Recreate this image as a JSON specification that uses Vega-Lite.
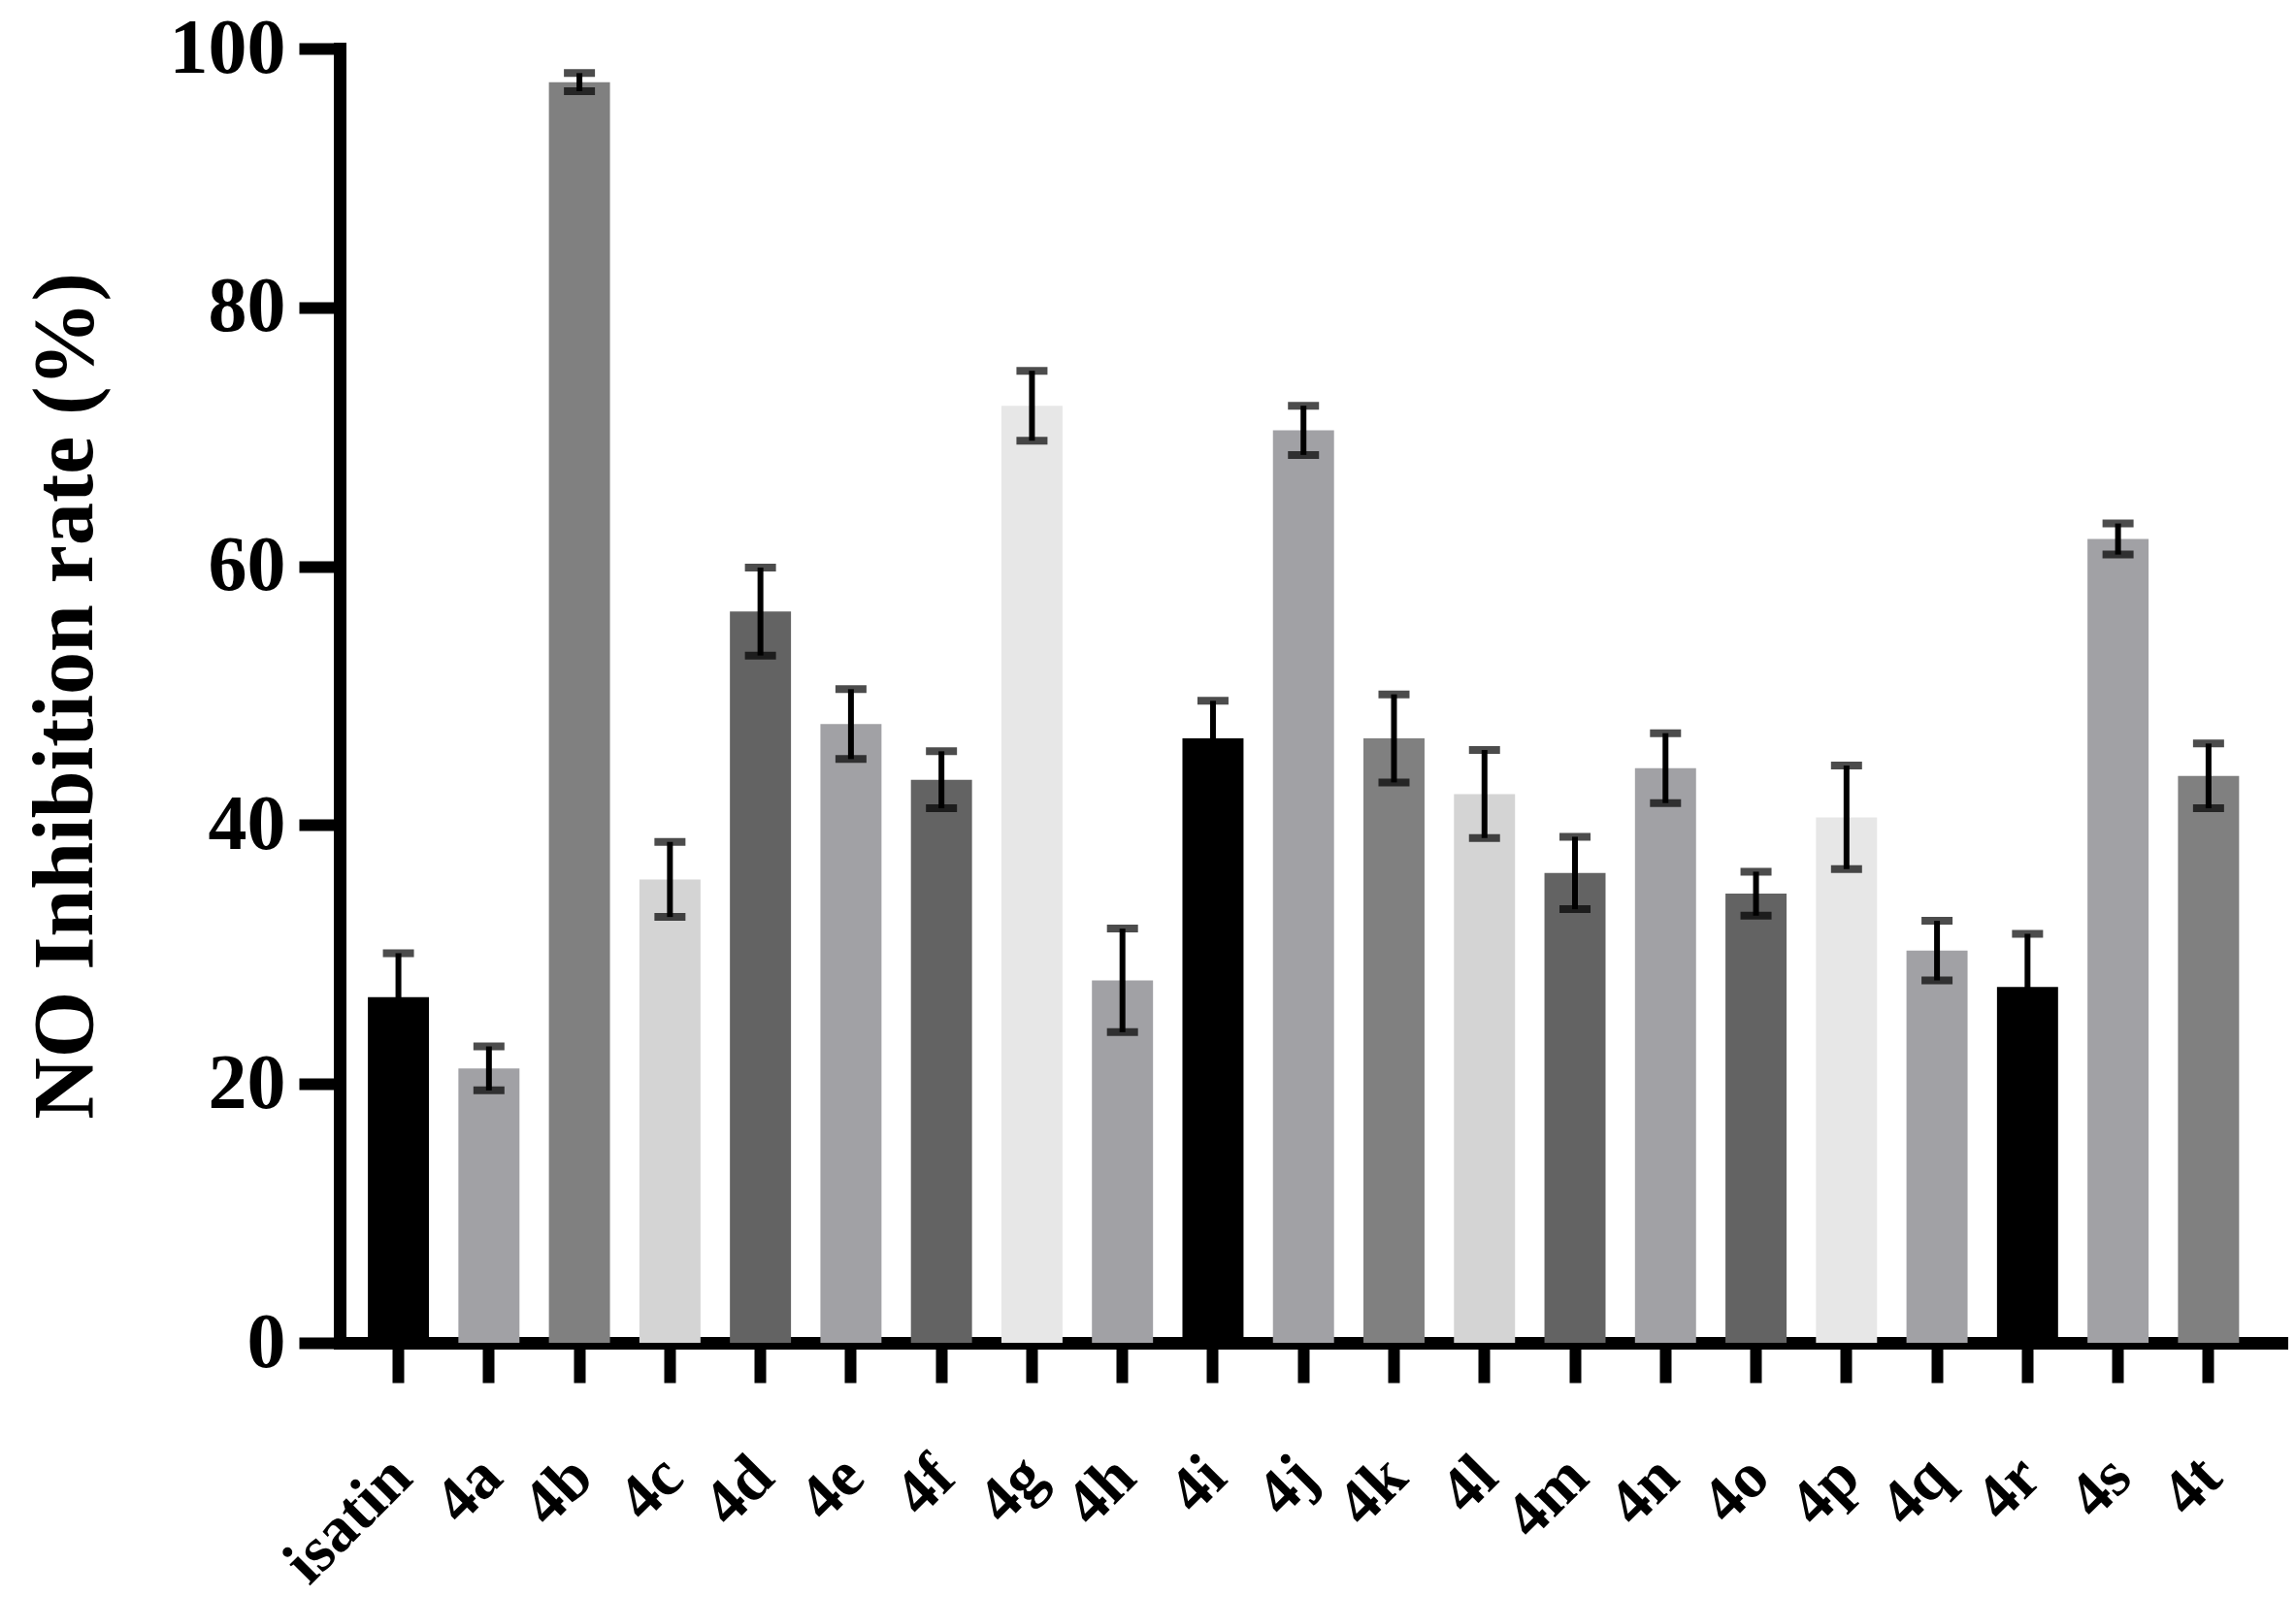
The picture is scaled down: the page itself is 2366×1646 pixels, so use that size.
{
  "$schema": "https://vega.github.io/schema/vega-lite/v6.json",
  "autosize": {"type": "none"},
  "width": 2001,
  "height": 1334,
  "padding": {"left": 350, "top": 50, "right": 15, "bottom": 262},
  "background": "white",
  "config": {
    "view": {"stroke": null},
    "font": "Liberation Serif"
  },
  "data": {
    "values": [
      {"name": "isatin", "value": 26.7, "err": 3.4},
      {"name": "4a", "value": 21.2, "err": 1.7},
      {"name": "4b", "value": 97.4, "err": 0.7},
      {"name": "4c", "value": 35.8, "err": 2.9},
      {"name": "4d", "value": 56.5, "err": 3.4},
      {"name": "4e", "value": 47.8, "err": 2.7},
      {"name": "4f", "value": 43.5, "err": 2.2},
      {"name": "4g", "value": 72.4, "err": 2.7},
      {"name": "4h", "value": 28.0, "err": 4.0},
      {"name": "4i", "value": 46.7, "err": 2.9},
      {"name": "4j", "value": 70.5, "err": 1.9},
      {"name": "4k", "value": 46.7, "err": 3.4},
      {"name": "4l", "value": 42.4, "err": 3.4},
      {"name": "4m", "value": 36.3, "err": 2.8},
      {"name": "4n", "value": 44.4, "err": 2.7},
      {"name": "4o", "value": 34.7, "err": 1.7},
      {"name": "4p", "value": 40.6, "err": 4.0},
      {"name": "4q", "value": 30.3, "err": 2.3},
      {"name": "4r", "value": 27.5, "err": 4.1},
      {"name": "4s", "value": 62.1, "err": 1.2},
      {"name": "4t", "value": 43.8, "err": 2.5}
    ]
  },
  "encoding": {
    "x": {
      "field": "name",
      "type": "nominal",
      "sort": null,
      "scale": {"paddingInner": 0.325, "paddingOuter": 0.39, "align": 0.4},
      "axis": {
        "title": null,
        "domainColor": "black",
        "domainWidth": 13,
        "domainCap": "square",
        "tickColor": "black",
        "tickWidth": 12,
        "tickSize": 41,
        "labelAngle": -45,
        "labelAlign": "right",
        "labelBaseline": "top",
        "labelLimit": 0,
        "labelOffset": -20,
        "labelFont": "Liberation Serif",
        "labelFontWeight": "bold",
        "labelFontSize": 66,
        "labelColor": "black",
        "labelPadding": 64
      }
    }
  },
  "layer": [
    {
      "mark": {"type": "bar"},
      "encoding": {
        "y": {
          "field": "value",
          "type": "quantitative",
          "title": "NO Inhibition rate (%)",
          "scale": {"domain": [0, 100], "nice": false},
          "axis": {
            "titleFont": "Liberation Serif",
            "titleFontWeight": "bold",
            "titleFontSize": 88,
            "titleColor": "black",
            "titlePadding": 62,
            "values": [0, 20, 40, 60, 80, 100],
            "grid": false,
            "domainColor": "black",
            "domainWidth": 13,
            "domainCap": "square",
            "tickColor": "black",
            "tickWidth": 12,
            "tickSize": 42,
            "labelFont": "Liberation Serif",
            "labelFontWeight": "bold",
            "labelFontSize": 80,
            "labelColor": "black",
            "labelPadding": 14
          }
        },
        "color": {
          "field": "name",
          "type": "nominal",
          "legend": null,
          "scale": {
            "domain": ["isatin", "4a", "4b", "4c", "4d", "4e", "4f", "4g", "4h", "4i", "4j", "4k", "4l", "4m", "4n", "4o", "4p", "4q", "4r", "4s", "4t"],
            "range": ["#000000", "#a1a1a5", "#808080", "#d4d4d4", "#636363", "#a1a1a5", "#636363", "#e7e7e7", "#a1a1a5", "#000000", "#a1a1a5", "#808080", "#d4d4d4", "#636363", "#a1a1a5", "#636363", "#e7e7e7", "#a1a1a5", "#000000", "#a1a1a5", "#808080"]
          }
        }
      }
    },
    {
      "mark": {
        "type": "errorbar",
        "color": "black",
        "ticks": {"size": 32, "thickness": 8, "color": "black"},
        "rule": {"strokeWidth": 6, "color": "black"}
      },
      "encoding": {
        "y": {"field": "value", "type": "quantitative", "title": "NO Inhibition rate (%)"},
        "yError": {"field": "err"}
      }
    }
  ]
}
